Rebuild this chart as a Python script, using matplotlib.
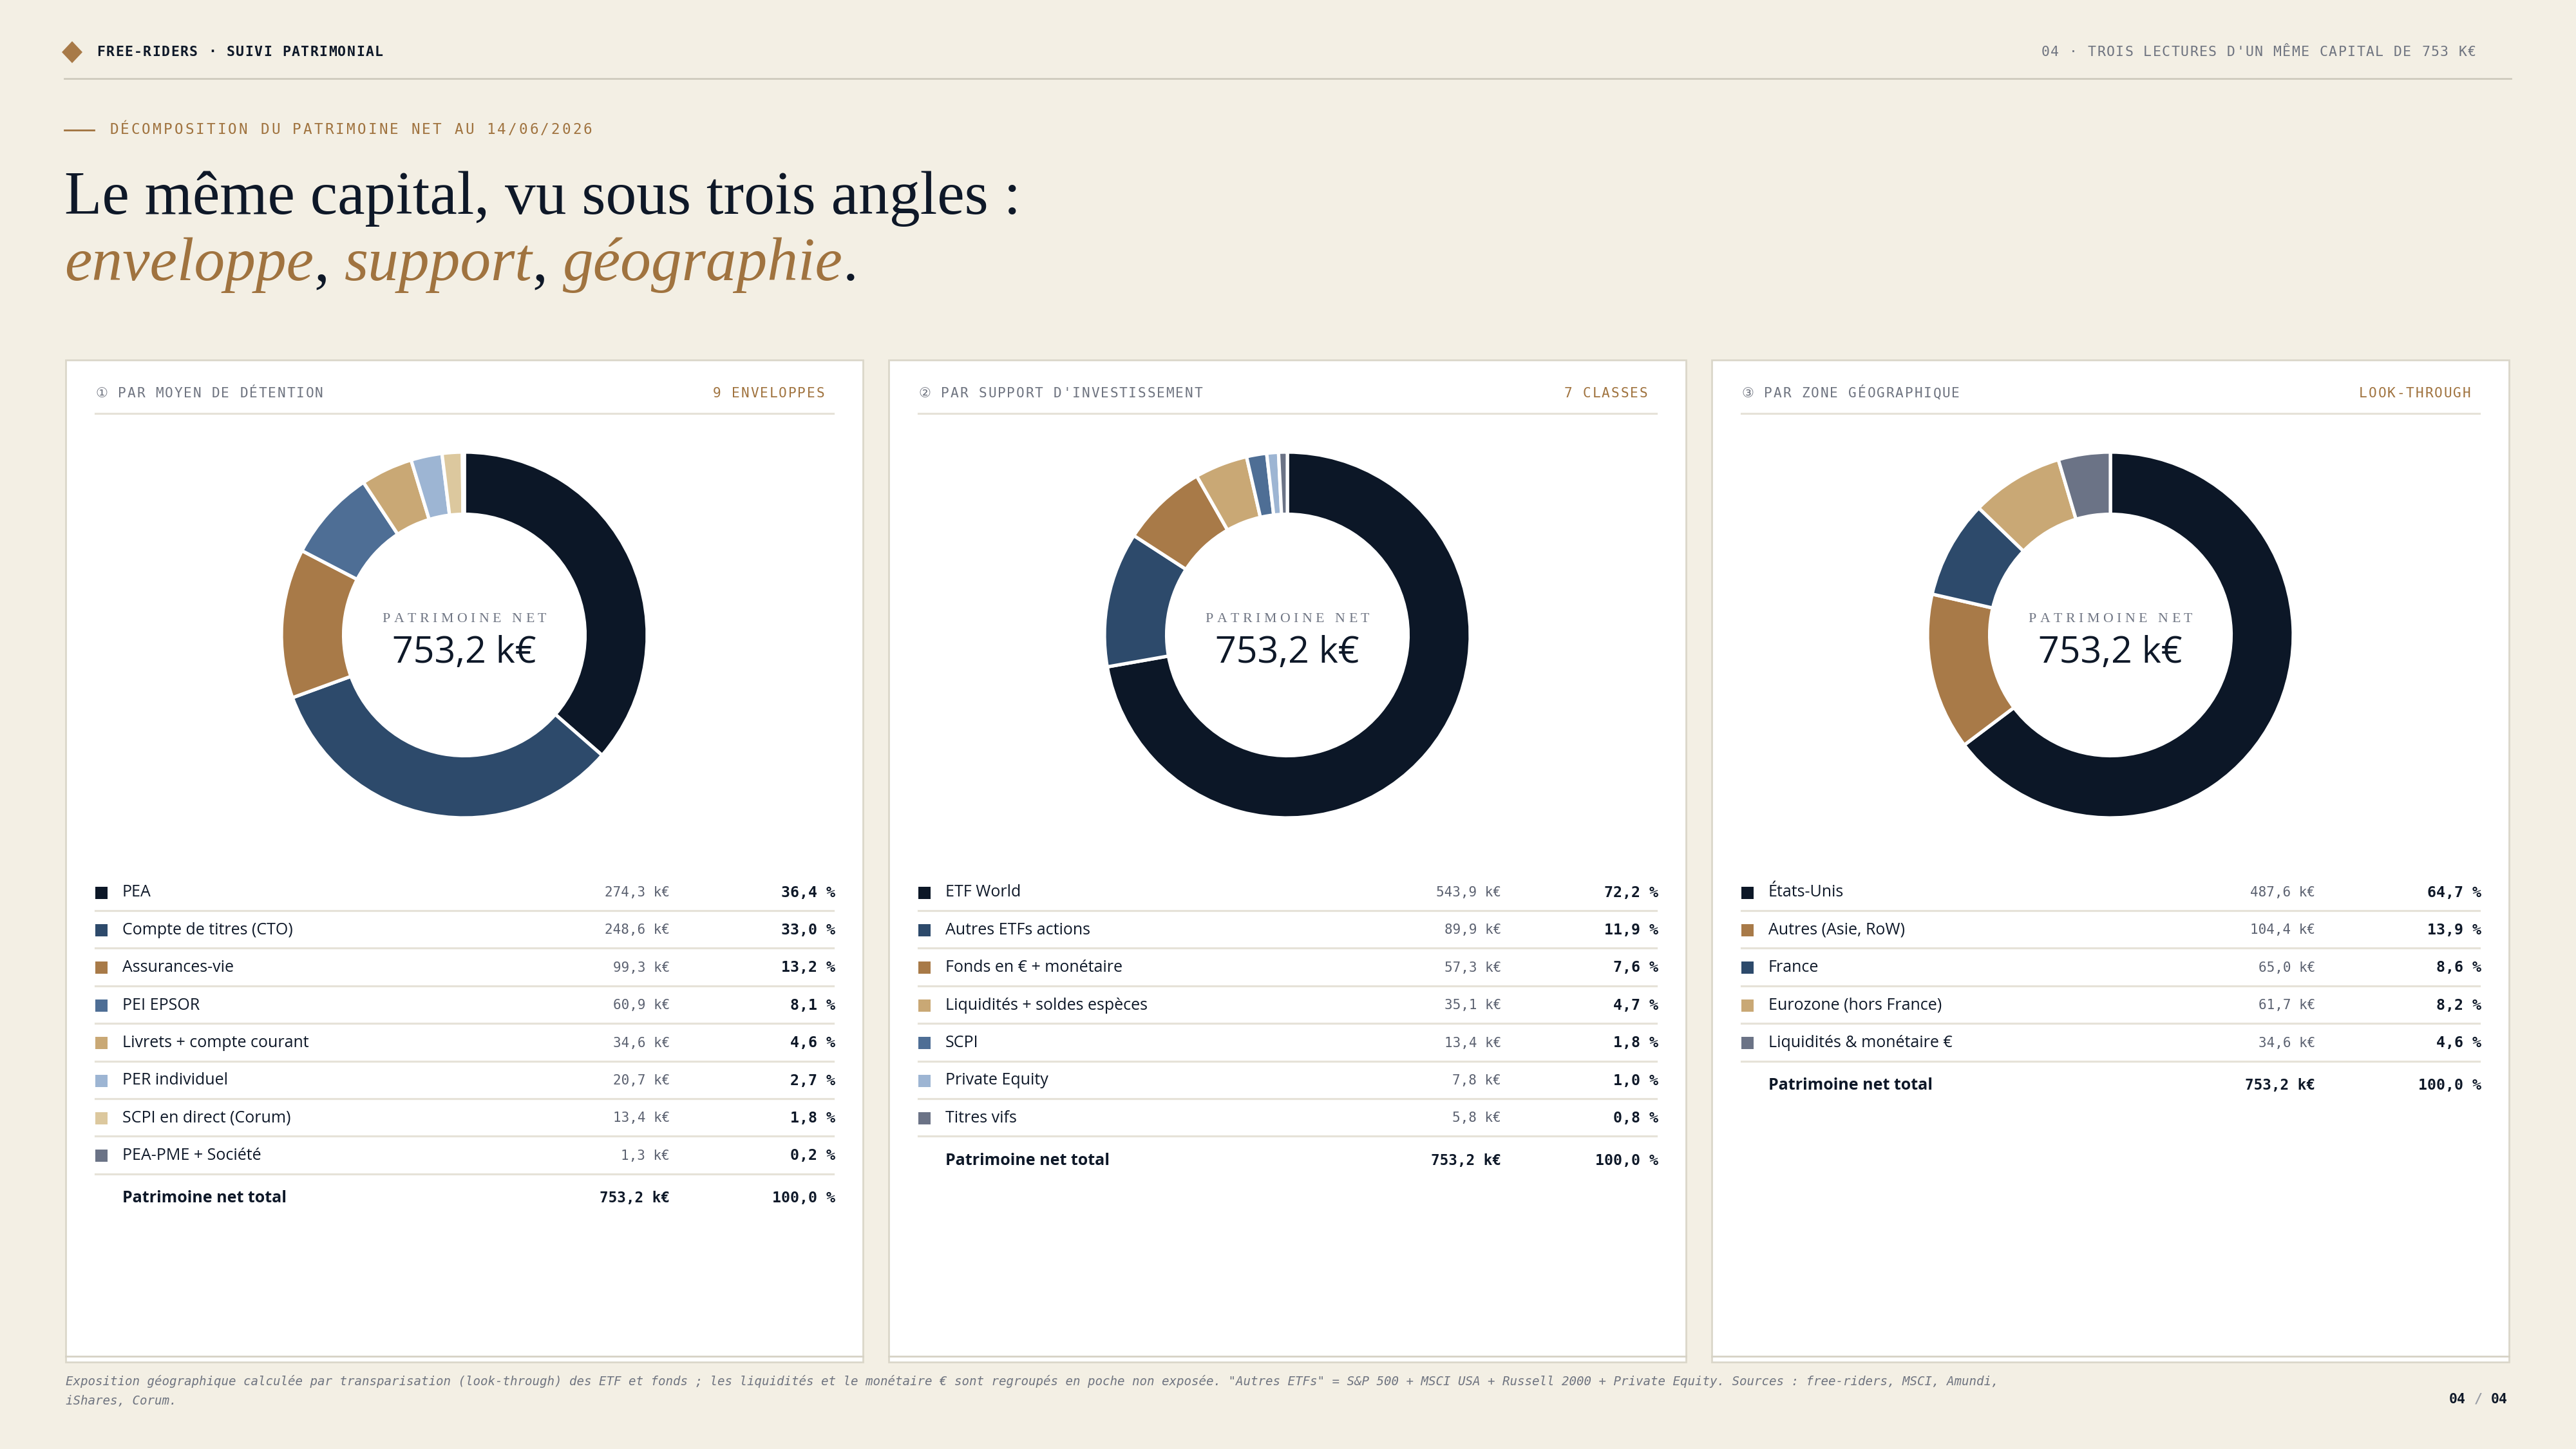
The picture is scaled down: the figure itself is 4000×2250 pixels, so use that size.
import matplotlib
matplotlib.use("Agg")
import matplotlib.pyplot as plt
from matplotlib.patches import Rectangle, Polygon

#Colours
BG = "#f3efe4"
INK = "#0e1828"
BROWN = "#a0733f"
GREY = "#6f7480"
VALGREY = "#5b6170"
RULE = "#e6e2d8"
NAVY = "#0c1727"
BLUE = "#2d4a6b"
COPPER = "#a87a48"
STEEL = "#4e6e95"
TAN = "#c9a875"
SKY = "#9db5d3"
SAND = "#dcc89e"
SLATE = "#6b7386"

#Data: par moyen de detention
env_labels = ["PEA", "Compte de titres (CTO)", "Assurances-vie", "PEI EPSOR",
              "Livrets + compte courant", "PER individuel", "SCPI en direct (Corum)",
              "PEA-PME + Société"]
env_values = [274.3, 248.6, 99.3, 60.9, 34.6, 20.7, 13.4, 1.3]
env_pct = [36.4, 33.0, 13.2, 8.1, 4.6, 2.7, 1.8, 0.2]
env_colors = [NAVY, BLUE, COPPER, STEEL, TAN, SKY, SAND, SLATE]

#Data: par support d'investissement
sup_labels = ["ETF World", "Autres ETFs actions", "Fonds en € + monétaire",
              "Liquidités + soldes espèces", "SCPI", "Private Equity", "Titres vifs"]
sup_values = [543.9, 89.9, 57.3, 35.1, 13.4, 7.8, 5.8]
sup_pct = [72.2, 11.9, 7.6, 4.7, 1.8, 1.0, 0.8]
sup_colors = [NAVY, BLUE, COPPER, TAN, STEEL, SKY, SLATE]

#Data: par zone geographique
geo_labels = ["États-Unis", "Autres (Asie, RoW)", "France", "Eurozone (hors France)",
              "Liquidités & monétaire €"]
geo_values = [487.6, 104.4, 65.0, 61.7, 34.6]
geo_pct = [64.7, 13.9, 8.6, 8.2, 4.6]
geo_colors = [NAVY, COPPER, BLUE, TAN, SLATE]

total_value = 753.2
total_pct = 100.0

MONO = ["DejaVu Sans Mono", "DejaVu Sans"]
SANS = "Open Sans"
SERIF = "Liberation Serif"

W, H = 4000, 2250
fig = plt.figure(figsize=(16, 9), dpi=250, facecolor=BG)
ov = fig.add_axes([0, 0, 1, 1], zorder=0)
ov.set_xlim(0, W)
ov.set_ylim(H, 0)
ov.axis("off")
R = fig.canvas.get_renderer()


def text_w(s, **kw):
    t = ov.text(0, 0, s, **kw)
    w = t.get_window_extent(R).width
    t.remove()
    return w


def piece_w(s, **kw):
    return text_w("|" + s + "|", **kw) - text_w("||", **kw)


#Letter-spaced text, one glyph at a time
def spaced(x, y, s, sp, ha="left", **kw):
    ws = [piece_w(c, **kw) for c in s]
    total = sum(ws) + sp * (len(s) - 1)
    if ha == "right":
        x -= total
    elif ha == "center":
        x -= total / 2
    for c, w in zip(s, ws):
        if c != " ":
            ov.text(x, y, c, ha="left", **kw)
        x += w + sp


def fmt_k(v):
    return f"{v:.1f}".replace(".", ",") + " k€"


def fmt_p(v):
    return f"{v:.1f}".replace(".", ",") + " %"


#Header
ov.add_patch(Polygon([(112, 64), (128, 81), (112, 98), (96, 81)], closed=True,
                     facecolor=COPPER, edgecolor="none"))
spaced(150, 81, "FREE-RIDERS · SUIVI PATRIMONIAL", 1.4, fontsize=6.2, family=MONO,
       weight="bold", color=INK, va="center")
spaced(3845, 81, "04 · TROIS LECTURES D'UN MÊME CAPITAL DE 753 K€", 1.4, ha="right",
       fontsize=6.2, family=MONO, color=GREY, va="center")
ov.plot([100, 3899], [122, 122], color="#cfcabd", lw=0.8)

#Kicker and title
ov.plot([100, 146], [202, 202], color=BROWN, lw=0.8)
spaced(170, 202, "DÉCOMPOSITION DU PATRIMOINE NET AU 14/06/2026", 3.1, fontsize=6.5,
       family=MONO, color=BROWN, va="center")
ov.text(100, 332, "Le même capital, vu sous trois angles :", family=SERIF, fontsize=27.5,
        color=INK, va="baseline")
x = 100
for s, c, st in [("enveloppe", BROWN, "italic"), (",", INK, "normal"), (" ", INK, "normal"),
                 ("support", BROWN, "italic"), (",", INK, "normal"), (" ", INK, "normal"),
                 ("géographie", BROWN, "italic"), (".", INK, "normal")]:
    kw = dict(family=SERIF, fontsize=27.5, style=st)
    if s != " ":
        ov.text(x, 435, s, color=c, va="baseline", **kw)
    x += piece_w(s, **kw)

#Panels
panels = [
    ("① PAR MOYEN DE DÉTENTION", "9 ENVELOPPES", env_labels, env_values, env_pct, env_colors, 938),
    ("② PAR SUPPORT D'INVESTISSEMENT", "7 CLASSES", sup_labels, sup_values, sup_pct, sup_colors, 951),
    ("③ PAR ZONE GÉOGRAPHIQUE", "LOOK-THROUGH", geo_labels, geo_values, geo_pct, geo_colors, 937),
]
x0s = [102, 1380, 2658]
pw, top, bottom = 1238, 559, 2115
row0, step = 1386, 58.4

for x0, (title, tag, labels, values, pct, colors, vcol) in zip(x0s, panels):
    ov.add_patch(Rectangle((x0, top), pw, bottom - top, facecolor="white",
                           edgecolor="#dbd7ca", lw=0.8))
    ov.plot([x0, x0 + pw], [2106, 2106], color="#d6d2c5", lw=0.8)
    spaced(x0 + 46, 611, title, 1.8, fontsize=6.1, family=MONO, color=GREY, va="center")
    spaced(x0 + 1178, 611, tag, 1.8, ha="right", fontsize=6.1, family=MONO,
           color=BROWN, va="center")
    ov.plot([x0 + 46, x0 + 1192], [642, 642], color=RULE, lw=0.9)

    #Donut
    cx, cy, r, half = x0 + pw / 2, 986, 284, 300
    ax = fig.add_axes([(cx - half) / W, 1 - (cy + half) / H, 2 * half / W, 2 * half / H],
                      zorder=2)
    ax.pie(values, colors=colors, startangle=90, counterclock=False, radius=1,
           wedgeprops=dict(width=0.34, edgecolor="white", linewidth=1.5))
    ax.set_xlim(-half / r, half / r)
    ax.set_ylim(-half / r, half / r)
    ax.set_aspect("equal")
    ax.axis("off")
    spaced(cx, 961, "PATRIMOINE NET", 5.5, ha="center", family=SERIF, fontsize=6.3,
           color="#707684", va="center")
    ov.text(cx, 1014, fmt_k(total_value), ha="center", va="center", family=SANS,
            fontsize=16.5, color=INK)

    #Table
    for i, (lab, v, p, c) in enumerate(zip(labels, values, pct, colors)):
        y = row0 + i * step
        ov.add_patch(Rectangle((x0 + 46, y - 9.5), 19, 19, facecolor=c, edgecolor="none"))
        ov.text(x0 + 88, y, lab, family=SANS, fontsize=7.2, color=INK, va="center")
        ov.text(x0 + vcol, y, fmt_k(v), family=MONO, fontsize=6, color=VALGREY,
                ha="right", va="center")
        ov.text(x0 + 1195, y, fmt_p(p), family=MONO, fontsize=6.7, weight="bold",
                color=INK, ha="right", va="center")
        ov.plot([x0 + 46, x0 + 1192], [y + 28, y + 28], color=RULE, lw=0.9)
    y = row0 + (len(labels) - 1) * step + 28 + 38
    ov.text(x0 + 88, y, "Patrimoine net total", family=SANS, fontsize=7.2, weight="bold",
            color=INK, va="center")
    ov.text(x0 + vcol, y, fmt_k(total_value), family=MONO, fontsize=6.5, weight="bold",
            color=INK, ha="right", va="center")
    ov.text(x0 + 1195, y, fmt_p(total_pct), family=MONO, fontsize=6.7, weight="bold",
            color=INK, ha="right", va="center")

#Footer
foot1 = ("Exposition géographique calculée par transparisation (look-through) des ETF et fonds ; "
         "les liquidités et le monétaire € sont regroupés en poche non exposée. "
         "\"Autres ETFs\" = S&P 500 + MSCI USA + Russell 2000 + Private Equity. "
         "Sources : free-riders, MSCI, Amundi,")
foot2 = "iShares, Corum."
ov.text(102, 2145, foot1, family=MONO, style="italic", fontsize=5.5, color=GREY, va="center")
ov.text(102, 2175, foot2, family=MONO, style="italic", fontsize=5.5, color=GREY, va="center")

pk = dict(family=MONO, fontsize=6.2, weight="bold")
w04 = piece_w("04", **pk)
wsl = piece_w(" / ", **pk)
ov.text(3894, 2173, "04", ha="right", va="center", color=INK, **pk)
ov.text(3894 - w04, 2173, " / ", ha="right", va="center", color="#9a9ea6", **pk)
ov.text(3894 - w04 - wsl, 2173, "04", ha="right", va="center", color=INK, **pk)

fig.savefig("out.png", dpi=250, facecolor=BG)
